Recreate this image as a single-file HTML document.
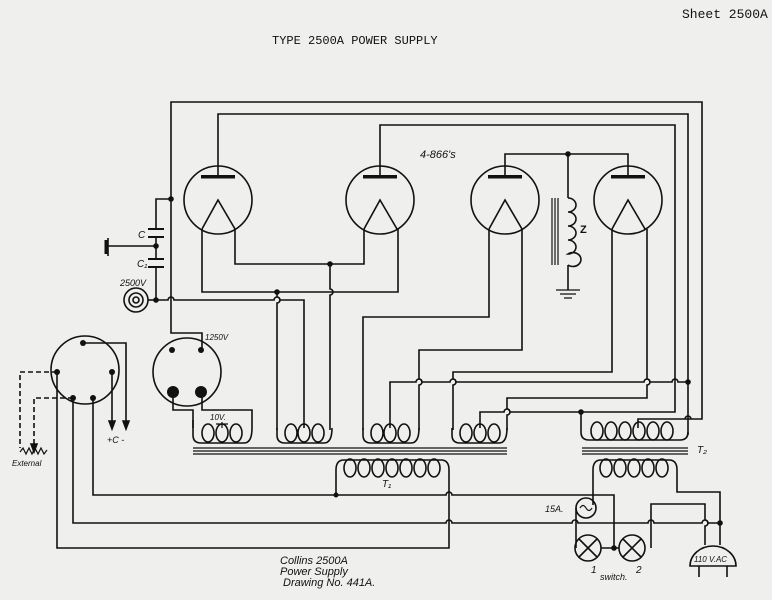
<!DOCTYPE html>
<html><head><meta charset="utf-8"><style>
html,body{margin:0;padding:0;background:#efefed}
svg{display:block}
text{font-family:"Liberation Mono",monospace;fill:#111}
.i text{font-family:"Liberation Sans",sans-serif;font-style:italic}
</style></head><body>
<svg width="772" height="600" viewBox="0 0 772 600" xmlns="http://www.w3.org/2000/svg">
<rect width="772" height="600" fill="#efefed"/>
<text x="682" y="18" font-size="13">Sheet 2500A</text>
<text x="272" y="44" font-size="12">TYPE 2500A POWER SUPPLY</text>

<g fill="none" stroke="#111" stroke-width="1.6">
<path d="M171,300 V102 H702 V419 H638 V428"/>
<path d="M218,166 V114 H688 V435"/>
<path d="M380,166 V125 H675 V412 H581 V428"/>
<circle cx="218" cy="200" r="34"/><circle cx="380" cy="200" r="34"/>
<circle cx="505" cy="200" r="34"/><circle cx="628" cy="200" r="34"/>
<path d="M202,229 L218,200 L235,229 M364,229 L380,200 L397,229 M489,229 L505,200 L522,229 M612,229 L628,200 L645,229"/>
<path d="M218,166 V177 M380,166 V177 M505,177 V154 H628 V177"/>
<path d="M202,229 V292 H398 V229"/>
<path d="M235,229 V264 H364 V229"/>
<path d="M330,264 V289 A3,3 0 0 1 330,295 V430"/>
<path d="M277,292 V297 A3,3 0 0 1 277,303 V430"/>
<path d="M157,300 H168 A3,3 0 0 1 174,300 H274 A3,3 0 0 1 280,300 H304 V428"/>
<path d="M489,229 V317 H363 V430"/>
<path d="M522,229 V350 H419 V379 A3,3 0 0 1 419,385 V430"/>
<path d="M612,229 V372 H453 V379 A3,3 0 0 1 453,385 V430"/>
<path d="M647,229 V379 A3,3 0 0 1 647,385 V398 H507 V409 A3,3 0 0 1 507,415 V430"/>
<path d="M390,428 V382 H416 A3,3 0 0 1 422,382 H450 A3,3 0 0 1 456,382 H644 A3,3 0 0 1 650,382 H672 A3,3 0 0 1 678,382 H688"/>
<path d="M480,428 V412 H504 A3,3 0 0 1 510,412 H581"/>
<path d="M685,419 A3,3 0 0 1 691,419"/>
<path d="M568,154 V198 M568,265 V290"/>
<path d="M568,198 a8,7 0 1 1 0,14 a8,7 0 1 1 0,14 a8,7 0 1 1 0,14 a8,7 0 1 1 0,14 a8,7 0 1 1 -0,11"/>
<path d="M552,198 V265 M555,198 V265 M558,198 V265" stroke-width="1.2"/>
<path d="M556,290 H580 M560,294 H576 M564,298 H572" stroke-width="1.3"/>
<path d="M171,199 H156 V229 M156,237 V259 M156,267 V300"/>
<path d="M148,229 H164 M148,237 H164 M148,259 H164 M148,267 H164" stroke-width="2"/>
<path d="M156,246 H108 M108,238 V256" />
<path d="M106,240 V254" stroke-width="3"/>
<circle cx="136" cy="300" r="12"/><circle cx="136" cy="300" r="7"/><circle cx="136" cy="300" r="3"/>
<path d="M148,300 H157"/>
<circle cx="187" cy="372" r="34"/>
<path d="M171,300 V333 H202 V350"/>
<path d="M173,392 V410 H193 V428 M202,392 V410 H252 V428"/>
<circle cx="85" cy="370" r="34"/>
<path d="M83,343 H126 V424 M112,372 V424"/>
<path d="M123,421 L126,429 L129,421 Z M109,421 L112,429 L115,421 Z" fill="#111"/>
<path d="M57,372 V548 H449 V470 Q449,460 441,460 H344 Q336,460 336,470 V495"/>
<path d="M73,398 V523 H446 A3,3 0 0 1 452,523 H572 A3,3 0 0 1 578,523 H648 A3,3 0 0 1 654,523 H702 A3,3 0 0 1 708,523 H720"/>
<path d="M93,398 V495 H446 A3,3 0 0 1 452,495 H614 V548"/>
<path d="M57,372 H20 V448 M73,398 H34 V444" stroke-dasharray="5,3"/>
<path d="M20,452 l3,-4 l3,6 l3,-6 l3,6 l3,-6 l3,6 l3,-6 l3,6 l3,-4" stroke-width="1.2"/>
<path d="M31,444 L34,452 L37,444 Z" fill="#111"/>
<path d="M193,420 V435 Q193,443 201,443 H244 Q252,443 252,428"/>
<path d="M277,428 V435 Q277,443 285,443 H324 Q332,443 332,428"/>
<path d="M363,428 V435 Q363,443 371,443 H411 Q419,443 419,428"/>
<path d="M452,428 V435 Q452,443 460,443 H499 Q507,443 507,428"/>
<ellipse cx="208" cy="433" rx="6" ry="9"/><ellipse cx="222" cy="433" rx="6" ry="9"/><ellipse cx="236" cy="433" rx="6" ry="9"/>
<ellipse cx="291" cy="433" rx="6" ry="9"/><ellipse cx="304" cy="433" rx="6" ry="9"/><ellipse cx="318" cy="433" rx="6" ry="9"/>
<ellipse cx="377" cy="433" rx="6" ry="9"/><ellipse cx="390" cy="433" rx="6" ry="9"/><ellipse cx="404" cy="433" rx="6" ry="9"/>
<ellipse cx="466" cy="433" rx="6" ry="9"/><ellipse cx="480" cy="433" rx="6" ry="9"/><ellipse cx="494" cy="433" rx="6" ry="9"/>
<path d="M222,422 V428 M216,424 H228" stroke-width="1.2"/>
<path d="M193,448 H507 M193,451 H507 M193,454 H507" stroke-width="1.2"/>
<ellipse cx="350" cy="468" rx="6" ry="9"/><ellipse cx="364" cy="468" rx="6" ry="9"/><ellipse cx="378" cy="468" rx="6" ry="9"/><ellipse cx="392" cy="468" rx="6" ry="9"/><ellipse cx="406" cy="468" rx="6" ry="9"/><ellipse cx="420" cy="468" rx="6" ry="9"/><ellipse cx="434" cy="468" rx="6" ry="9"/>
<path d="M581,428 V432 Q581,440 589,440 H680 Q688,440 688,432"/>
<ellipse cx="597" cy="431" rx="6" ry="9"/><ellipse cx="611" cy="431" rx="6" ry="9"/><ellipse cx="625" cy="431" rx="6" ry="9"/><ellipse cx="639" cy="431" rx="6" ry="9"/><ellipse cx="653" cy="431" rx="6" ry="9"/><ellipse cx="667" cy="431" rx="6" ry="9"/>
<path d="M582,448 H688 M582,451 H688 M582,454 H688" stroke-width="1.2"/>
<path d="M593,505 V470 Q593,460 601,460 H669 Q677,460 677,470 V492 H720 V523 V545"/>
<ellipse cx="606" cy="468" rx="6" ry="9"/><ellipse cx="620" cy="468" rx="6" ry="9"/><ellipse cx="634" cy="468" rx="6" ry="9"/><ellipse cx="648" cy="468" rx="6" ry="9"/><ellipse cx="662" cy="468" rx="6" ry="9"/>
<circle cx="586" cy="508" r="10"/>
<path d="M580,508 q3,-5 6,0 q3,5 6,0" stroke-width="1.2"/>
<path d="M576,508 V548 M651,548 V504 H705 V520 A3,3 0 0 1 705,526 V545"/>
<circle cx="588" cy="548" r="13"/><circle cx="632" cy="548" r="13"/>
<path d="M579,539 L597,557 M597,539 L579,557 M623,539 L641,557 M641,539 L623,557"/>
<path d="M601,548 H619"/>
<path d="M690,566 A23,20 0 0 1 736,566 Z"/>
<path d="M699,566 V577 M727,566 V577"/>
</g>
<g fill="#111">
<circle cx="171" cy="199" r="2.8"/><circle cx="156" cy="246" r="2.8"/><circle cx="156" cy="300" r="2.8"/>
<circle cx="330" cy="264" r="2.8"/><circle cx="277" cy="292" r="2.8"/><circle cx="568" cy="154" r="2.8"/>
<circle cx="688" cy="382" r="2.8"/><circle cx="581" cy="412" r="2.8"/><circle cx="336" cy="495" r="2.5"/>
<circle cx="614" cy="548" r="2.8"/><circle cx="720" cy="523" r="2.8"/>
<circle cx="83" cy="343" r="3"/><circle cx="57" cy="372" r="3"/><circle cx="112" cy="372" r="3"/><circle cx="73" cy="398" r="3"/><circle cx="93" cy="398" r="3"/>
<circle cx="172" cy="350" r="3"/><circle cx="201" cy="350" r="3"/><circle cx="173" cy="392" r="6"/><circle cx="201" cy="392" r="6"/>
<rect x="201" y="175" width="34" height="3.5"/><rect x="363" y="175" width="34" height="3.5"/><rect x="488" y="175" width="34" height="3.5"/><rect x="611" y="175" width="34" height="3.5"/>
</g>
<g class="i">
<text x="420" y="158" font-size="11">4-866's</text>
<text x="138" y="238" font-size="10">C</text>
<text x="137" y="267" font-size="10">C₁</text>
<text x="120" y="286" font-size="9">2500V</text>
<text x="205" y="340" font-size="8">1250V</text>
<text x="210" y="420" font-size="8">10V.</text>
<text x="107" y="443" font-size="9">+C -</text>
<text x="12" y="466" font-size="8">External</text>
<text x="580" y="233" font-size="11" font-weight="bold" style="font-style:normal">Z</text>
<text x="382" y="487" font-size="10">T₁</text>
<text x="697" y="453" font-size="10">T₂</text>
<text x="545" y="512" font-size="9">15A.</text>
<text x="591" y="573" font-size="10">1</text>
<text x="636" y="573" font-size="10">2</text>
<text x="600" y="580" font-size="9">switch.</text>
<text x="694" y="562" font-size="8">110 V.AC</text>
<text x="280" y="564" font-size="11">Collins  2500A</text>
<text x="280" y="575" font-size="11">Power  Supply</text>
<text x="283" y="586" font-size="11">Drawing  No. 441A.</text>
</g>
</svg>
</body></html>
